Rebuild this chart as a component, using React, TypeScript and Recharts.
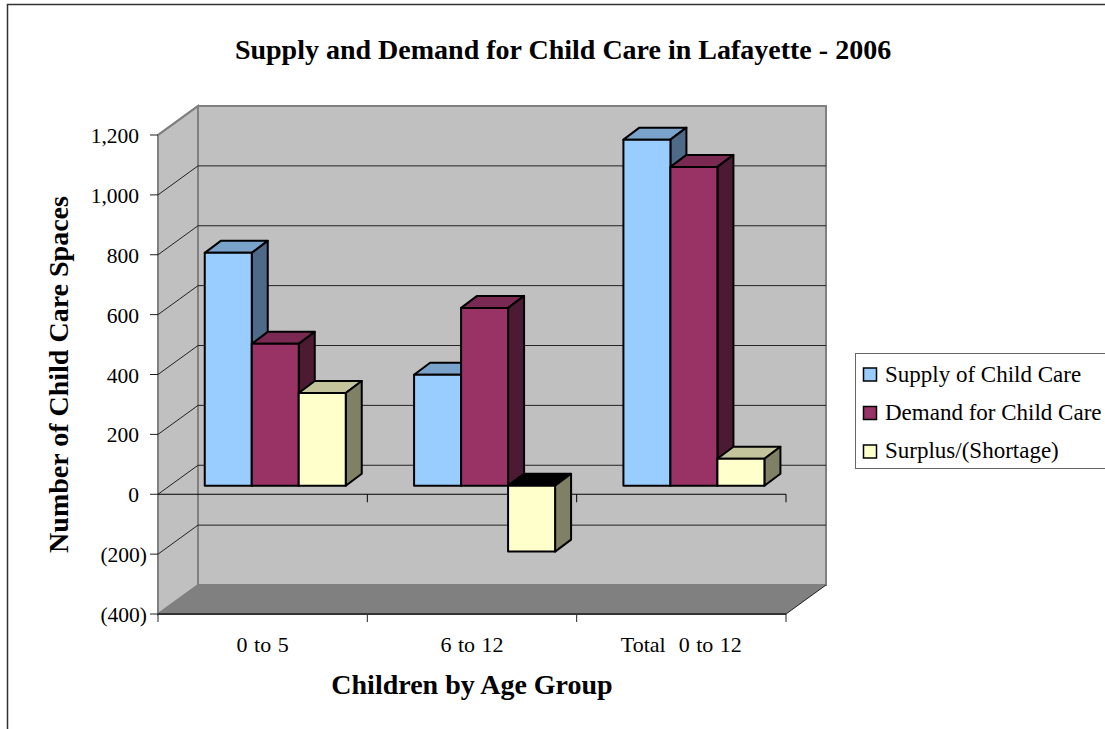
import React from 'react';
import { BarChart, Bar, XAxis, YAxis, ReferenceArea } from 'recharts';

const categories = ['0 to 5', '6 to 12', 'Total\u00a0 0 to 12'];
const supply = [778, 371, 1156];
const demand = [474, 594, 1065];
const surplus = [310, -220, 90];
const yTicks = [-400, -200, 0, 200, 400, 600, 800, 1000, 1200];

const tableData = categories.map((name, i) => ({
  name,
  supply: supply[i],
  demand: demand[i],
  surplus: surplus[i],
}));

const FONT = '"Liberation Serif", "Times New Roman", serif';
const WALL_DX = 40;
const WALL_DY = -29;
const BAR_DX = 12;
const BAR_DY = -8.5;
const DEPTH_DX = 16;
const DEPTH_DY = -12;

const seriesInfo = [
  { key: 'supply', label: 'Supply of Child Care', front: '#99ccff', top: '#7aa3cc', side: '#4f6a88' },
  { key: 'demand', label: 'Demand for Child Care', front: '#993366', top: '#7a2952', side: '#4d1a33' },
  { key: 'surplus', label: 'Surplus/(Shortage)', front: '#ffffcc', top: '#c4c49c', side: '#808066' },
];

const poly = (pts: number[][]) => pts.map((p) => p.join(',')).join(' ');

// the grey box behind the bars: side wall, back wall, floor and gridlines
const Walls = (props: any) => {
  const { x, y, width, height } = props;
  const bottom = y + height;
  const right = x + width;
  const yAt = (v: number) => y + ((1200 - v) / 1600) * height;
  const zero = yAt(0);
  return (
    <g>
      <polygon
        points={poly([[x, y], [x + WALL_DX, y + WALL_DY], [x + WALL_DX, bottom + WALL_DY], [x, bottom]])}
        fill="#c0c0c0"
        stroke="#808080"
        strokeWidth={2}
      />
      <rect x={x + WALL_DX} y={y + WALL_DY} width={width} height={height} fill="#c0c0c0" stroke="#808080" strokeWidth={2} />
      <polygon
        points={poly([[x, bottom], [x + WALL_DX, bottom + WALL_DY], [right + WALL_DX, bottom + WALL_DY], [right, bottom]])}
        fill="#808080"
      />
      {yTicks.slice(1, -1).map((t) => (
        <path
          key={t}
          d={`M${x},${yAt(t)} L${x + WALL_DX},${yAt(t) + WALL_DY} L${right + WALL_DX},${yAt(t) + WALL_DY}`}
          fill="none"
          stroke="#222"
          strokeWidth={1}
        />
      ))}
      <line x1={x} y1={y} x2={x + WALL_DX} y2={y + WALL_DY} stroke="#808080" strokeWidth={2} />
      <line x1={right} y1={bottom} x2={right + WALL_DX} y2={bottom + WALL_DY} stroke="#222" strokeWidth={1} />
      <line x1={x} y1={zero} x2={right} y2={zero} stroke="#000" strokeWidth={1} />
      {categories.map((c, i) => {
        const tx = x + ((i + 1) * width) / categories.length;
        return (
          <g key={c}>
            <line x1={tx} y1={zero} x2={tx} y2={zero + 8} stroke="#000" strokeWidth={1} />
            <line x1={tx} y1={bottom} x2={tx} y2={bottom + 8} stroke="#222" strokeWidth={1} />
          </g>
        );
      })}
      <line x1={x} y1={bottom} x2={x} y2={bottom + 8} stroke="#222" strokeWidth={1} />
    </g>
  );
};

const Bar3D = (props: any) => {
  const { x, y, width, height, info, value } = props;
  const top = Math.min(y, y + height) + BAR_DY;
  const h = Math.abs(height);
  const l = x + BAR_DX;
  const r = l + width;
  const negative = (Array.isArray(value) ? value[1] : value) < 0;
  return (
    <g stroke="#000" strokeWidth={2} strokeLinejoin="round">
      <polygon
        points={poly([[l, top], [l + DEPTH_DX, top + DEPTH_DY], [r + DEPTH_DX, top + DEPTH_DY], [r, top]])}
        fill={negative ? '#000' : info.top}
      />
      <polygon
        points={poly([[r, top], [r + DEPTH_DX, top + DEPTH_DY], [r + DEPTH_DX, top + h + DEPTH_DY], [r, top + h]])}
        fill={info.side}
      />
      <rect x={l} y={top} width={width} height={h} fill={info.front} />
    </g>
  );
};

// positive numbers leave room for the closing bracket of the negative ones
const YTick = (props: any) => {
  const { x, y, payload } = props;
  const v = payload.value as number;
  const text = v < 0 ? `(${Math.abs(v).toLocaleString('en-US')})` : v.toLocaleString('en-US');
  return (
    <text x={v < 0 ? x - 1 : x - 9} y={y + 8} textAnchor="end" fontFamily={FONT} fontSize={21.5} fill="#000">
      {text}
    </text>
  );
};

export default function App() {
  return (
    <div style={{ position: 'absolute', left: 0, top: 0, width: 1105, height: 729, overflow: 'hidden', background: '#fff' }}>
      <BarChart
        width={1105}
        height={729}
        data={tableData}
        margin={{ top: 135, right: 319, bottom: 0, left: 60 }}
        barCategoryGap="16.6%"
        barGap={0}
      >
        <path d="M7.5,729 L7.5,4.5 L1105,4.5" fill="none" stroke="#333" strokeWidth={1.5} />
        <text x={563} y={59} textAnchor="middle" fontFamily={FONT} fontSize={28} fontWeight="bold" fill="#000">
          Supply and Demand for Child Care in Lafayette - 2006
        </text>
        <XAxis
          dataKey="name"
          height={115}
          tickLine={false}
          axisLine={{ stroke: '#333', strokeWidth: 2 }}
          tick={{ fontFamily: FONT, fontSize: 22, fill: '#000', wordSpacing: 1 }}
          tickMargin={16}
          interval={0}
          label={{ value: 'Children by Age Group', position: 'insideBottom', offset: 35, fontFamily: FONT, fontSize: 28, fontWeight: 'bold', fill: '#000' }}
        />
        <YAxis
          width={98}
          domain={[-400, 1200]}
          ticks={yTicks}
          interval={0}
          tickSize={8}
          tickLine={{ stroke: '#222' }}
          axisLine={false}
          tick={<YTick />}
          label={{ value: 'Number of Child Care Spaces', angle: -90, position: 'insideLeft', offset: -2, fontFamily: FONT, fontSize: 28, fontWeight: 'bold', fill: '#000', style: { textAnchor: 'middle' } }}
        />
        <ReferenceArea y1={-400} y2={1200} shape={<Walls />} ifOverflow="visible" zIndex={-10} />
        {seriesInfo.map((s) => (
          <Bar key={s.key} dataKey={s.key} isAnimationActive={false} shape={<Bar3D info={s} />} />
        ))}
        <g>
          <rect x={855.5} y={353.5} width={260} height={115} fill="#fff" stroke="#666" strokeWidth={1} />
          {seriesInfo.map((s, i) => (
            <g key={s.key}>
              <rect x={863.5} y={368 + i * 38.5} width={13} height={13} fill={s.front} stroke="#000" strokeWidth={1.5} />
              <text x={885} y={382 + i * 38} fontFamily={FONT} fontSize={23} fill="#000">
                {s.label}
              </text>
            </g>
          ))}
        </g>
      </BarChart>
    </div>
  );
}
